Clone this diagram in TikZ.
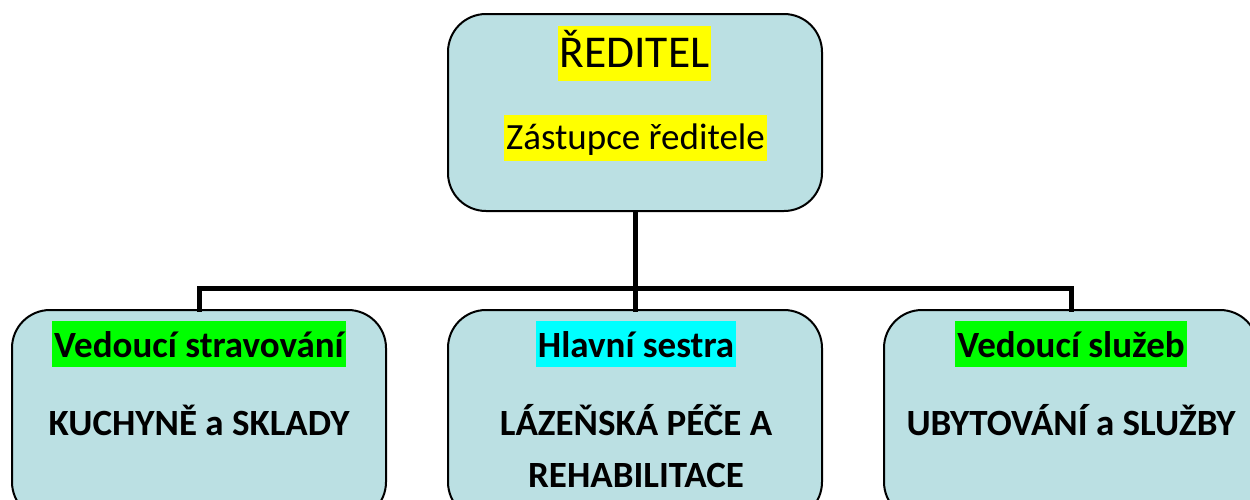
\documentclass[tikz,border=0pt]{standalone}
\usepackage{fontspec}
\setmainfont{Carlito}
\definecolor{boxfill}{RGB}{187,224,227}
\definecolor{hlyellow}{RGB}{255,255,0}
\definecolor{hlgreen}{RGB}{0,255,0}
\definecolor{hlcyan}{RGB}{0,255,255}
\tikzset{
  orgbox/.style={draw=black, line width=2pt, fill=boxfill, rounded corners=38pt, inner sep=0pt},
  hl/.style={anchor=base, inner xsep=2pt, inner ysep=0pt},
  conn/.style={line width=5pt, line cap=rect},
  titlefont/.style={font=\fontsize{45.5}{52}\selectfont},
  subfont/.style={font=\fontsize{37}{44}\selectfont},
  boldfont/.style={font=\bfseries\fontsize{37}{44}\selectfont, anchor=base, inner sep=0pt}
}
\begin{document}
\begin{tikzpicture}[x=1pt, y=-1pt]
\useasboundingbox (0,0) rectangle (1250,499);
\clip (0,0) rectangle (1250,499);
\fill[white] (0,0) rectangle (1250,499);
% boxes
\node[orgbox, minimum width=374pt, minimum height=197pt] (top) at (635,112.5) {};
\node[orgbox, minimum width=374pt, minimum height=210pt] (left) at (199,415) {};
\node[orgbox, minimum width=374pt, minimum height=210pt] (mid) at (635,415) {};
\node[orgbox, minimum width=374pt, minimum height=210pt] (right) at (1071,415) {};
% connectors
\coordinate (bus) at (636,288);
\draw[conn] (top.south) -- (top.south |- bus);
\draw[conn] (left.north) -- (left.north |- bus) -- (right.north |- bus) -- (right.north);
\draw[conn] (top.south |- bus) -- (mid.north);
% texts top
\node[hl, fill=hlyellow, titlefont, text height=41pt, text depth=14pt] (t1) at (634.5,67) {ŘEDITEL};
\node[hl, fill=hlyellow, subfont, text height=34pt, text depth=12pt] (t2) at (635.5,149) {Zástupce ředitele};
% bottom headers
\node[hl, fill=hlgreen, boldfont, inner xsep=2pt, text height=36pt, text depth=10pt] (h1) at (199,357) {Vedoucí stravování};
\node[hl, fill=hlcyan, boldfont, inner xsep=2pt, text height=36pt, text depth=10pt] (h2) at (636,357) {Hlavní sestra};
\node[hl, fill=hlgreen, boldfont, inner xsep=2pt, text height=36pt, text depth=10pt] (h3) at (1071,357) {Vedoucí služeb};
% bottom body
\node[boldfont] (b1) at (199,435) {KUCHYNĚ a SKLADY};
\node[boldfont] (b2) at (636,435) {LÁZEŇSKÁ PÉČE A};
\node[boldfont] (b2b) at (636,487) {REHABILITACE};
\node[boldfont] (b3) at (1071,435) {UBYTOVÁNÍ a SLUŽBY};
\end{tikzpicture}
\end{document}
